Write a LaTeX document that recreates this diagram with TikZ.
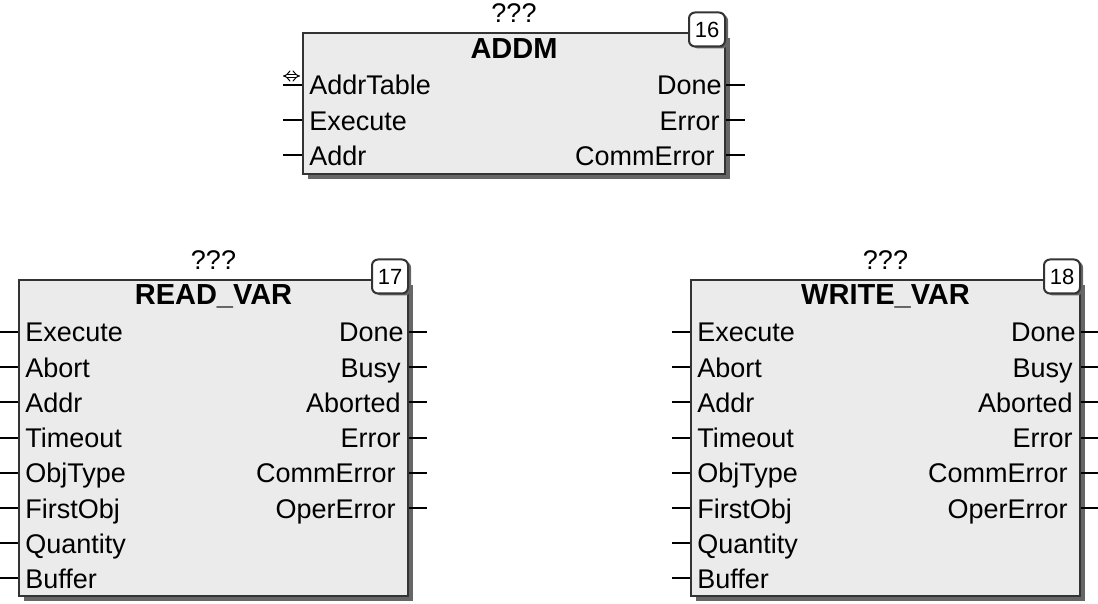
\documentclass[tikz,border=0pt]{standalone}
\usepackage{fontspec}
\setmainfont{Liberation Sans}
\usetikzlibrary{calc,shadows,arrows.meta}

\begin{document}
\begin{tikzpicture}[x=0.5pt, y=-0.5pt,
  fblock/.style={rectangle, draw=black!80, line width=1pt, fill=black!8, inner sep=0pt,
    anchor=north west, drop shadow={shadow xshift=2.5pt, shadow yshift=-2.5pt, opacity=1, fill=black!60}},
  fbnum/.style={rectangle, draw=black!80, line width=1pt, fill=white, rounded corners=3pt,
    minimum width=18pt, minimum height=17pt, inner sep=0pt, anchor=east,
    font=\fontsize{11}{11}\selectfont,
    drop shadow={shadow xshift=1.5pt, shadow yshift=-1pt, opacity=1, fill=black!60}},
  fbname/.style={anchor=base, inner sep=0pt, font=\bfseries\fontsize{14.5}{15}\selectfont},
  fbinst/.style={anchor=base, inner sep=0pt, font=\fontsize{13.5}{14}\selectfont},
  pinL/.style={anchor=base west, inner sep=0pt, font=\fontsize{13.5}{14}\selectfont},
  pinR/.style={anchor=base east, inner sep=0pt, font=\fontsize{13.5}{14}\selectfont},
  stub/.style={line width=1pt, black}]
  % page is 1098 x 604 px, 1 px = 0.5pt, y runs downwards
  \useasboundingbox (0,0) rectangle (1098,604);

  % ---- ADDM (top) ----
  \node[fblock, minimum width=211pt, minimum height=70.5pt] (addm) at (302,32) {};
  \node[fbnum] (addm-no) at ([yshift=1.25pt]addm.north east) {16};
  \node[fbinst] (addm-inst) at ([yshift=4.5pt]addm.north) {???};
  \node[fbname] (addm-name) at ([yshift=-13.5pt]addm.north) {ADDM};
  \foreach \name [count=\i] in {AddrTable,Execute,Addr} {
    \coordinate (addm-in\i) at (283,85+35.25*\i-35.25);
    \draw[stub] (addm-in\i) -- (addm-in\i -| addm.west);
    \node[pinL] (addm-l\i) at ($(addm-in\i)+(26,10)$) {\name};
  }
  % in/out marker of AddrTable
  \draw[double, double distance=1.4pt, line width=0.5pt, {Implies}-{Implies}]
    ($(addm-in1)+(0,-9)$) -- ($(addm-in1 -| addm.west)+(-2,-9)$);
  \foreach \name/\dx [count=\i] in {Done/4,Error/6,CommError/11} {
    \coordinate (addm-out\i) at (745,85+35.25*\i-35.25);
    \draw[stub] (addm-out\i -| addm.east) -- (addm-out\i);
    \node[pinR] (addm-r\i) at ($(addm-out\i -| addm.east)+(-\dx,10)$) {\name};
  }

  % ---- READ_VAR and WRITE_VAR (bottom) ----
  \foreach \b/\x/\nm/\no in {rv/18/READ\_VAR/17, wv/690/WRITE\_VAR/18} {
    \node[fblock, minimum width=194.5pt, minimum height=158pt] (\b) at (\x,279) {};
    \node[fbnum] (\b-no) at ([yshift=1.25pt]\b.north east) {\no};
    \node[fbinst] (\b-inst) at ([yshift=4.5pt]\b.north) {???};
    \node[fbname] (\b-name) at ([yshift=-13pt]\b.north) {\nm};
    \foreach \name [count=\i] in {Execute,Abort,Addr,Timeout,ObjType,FirstObj,Quantity,Buffer} {
      \coordinate (\b-in\i) at (\x-18,332+35.2*\i-35.2);
      \draw[stub] (\b-in\i) -- (\b-in\i -| \b.west);
      \node[pinL] (\b-l\i) at ($(\b-in\i)+(25,10)$) {\name};
    }
    \foreach \name/\dx [count=\i] in {Done/5,Busy/8,Aborted/8,Error/8,CommError/13,OperError/13} {
      \coordinate (\b-out\i) at (\x+409,332+35.2*\i-35.2);
      \draw[stub] (\b-out\i -| \b.east) -- (\b-out\i);
      \node[pinR] (\b-r\i) at ($(\b-out\i -| \b.east)+(-\dx,10)$) {\name};
    }
  }
\end{tikzpicture}
\end{document}
